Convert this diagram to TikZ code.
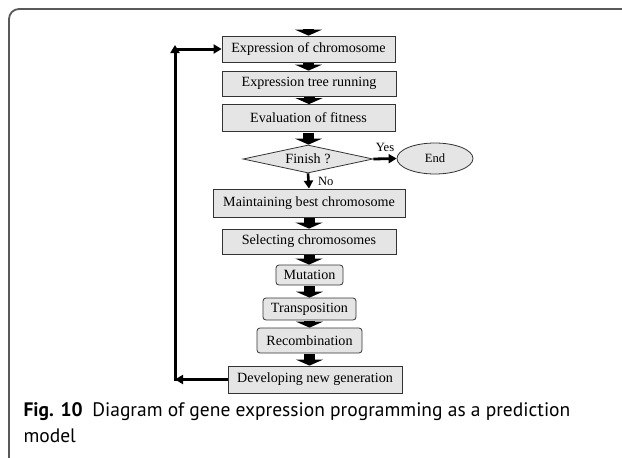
\documentclass[tikz,border=0pt]{standalone}
\usepackage{fontspec}
\setmainfont{Liberation Serif}
\newfontfamily\capfont{PT Sans}
\usetikzlibrary{arrows.meta,positioning,shapes.geometric}
\tikzset{
  >=Stealth,
  stepbox/.style={rectangle, draw=black!80, line width=0.8pt, fill=black!10, inner sep=0pt, font=\fontsize{14.1}{16}\selectfont},
  roundbox/.style={stepbox, rounded corners=3pt},
  lbl/.style={font=\fontsize{12.6}{14}\selectfont}
}
\begin{document}
\begin{tikzpicture}[x=1pt, y=-1pt,
    % flow chart styles for this figure
    decision/.style={diamond, aspect=4.6, draw=black!80, line width=0.8pt, fill=black!10, inner sep=0pt, font=\fontsize{14.1}{16}\selectfont},
    terminal/.style={ellipse, draw=black!80, line width=0.8pt, fill=black!10, inner sep=0pt, font=\fontsize{12.6}{14}\selectfont},
    flow/.style={line width=11pt, -{Triangle[width=27pt, length=6pt]}},
    link/.style={line width=3pt, -{Triangle[width=9pt, length=8pt]}},
    frame line/.style={black!65, line width=1.8pt},
    caption text/.style={font=\capfont\fontsize{19.5}{26}\selectfont, align=left}
]
\useasboundingbox (0,0) rectangle (622,458);

% --- Frame ---
\draw[frame line] (9,470) -- (9,19) arc[start angle=180, end angle=270, radius=10] -- (630,9);

% --- Steps ---
\node[stepbox, minimum width=173pt, minimum height=26pt] (expr) at (308.5,49) {Expression of chromosome};
\node[stepbox, minimum width=174pt, minimum height=25pt] (tree) at (309,83.5) {Expression tree running};
\node[stepbox, minimum width=173pt, minimum height=27pt] (fit) at (308.5,118) {Evaluation of fitness};
\node[decision, minimum width=130pt, minimum height=28pt] (finish) at (308,159) {Finish ?};
\node[terminal, minimum width=76pt, minimum height=31pt] (end) at (435,158.5) {End};
\node[stepbox, minimum width=192pt, minimum height=28pt] (best) at (309,203) {Maintaining best chromosome};
\node[stepbox, minimum width=174pt, minimum height=25pt] (select) at (309,241.5) {Selecting chromosomes};
\node[roundbox, minimum width=67pt, minimum height=20pt] (mut) at (309.5,275) {Mutation};
\node[roundbox, minimum width=93pt, minimum height=22pt] (trans) at (309.5,309) {Transposition};
\node[roundbox, minimum width=105pt, minimum height=25pt] (recomb) at (309.5,340.5) {Recombination};
\node[stepbox, minimum width=174pt, minimum height=27pt] (newgen) at (315,379.5) {Developing new generation};

% --- Block arrows down the chart ---
\coordinate (entry) at (308.5,29);
\draw[flow] (entry) -- (expr.north);
\foreach \a/\b in {expr/tree, tree/fit, fit/finish, best/select, select/mut, mut/trans, trans/recomb, recomb/newgen} {
    \draw[flow] ([yshift=-1pt]\a.south) -- (\a.south |- \b.north);
}

% --- Decision ---
\draw[link, line width=2.8pt] (finish.east) -- node[lbl, above=2pt] (yes) {Yes} (end.west);
\draw[link, line width=2.6pt] (finish.south) -- node[lbl, right=5pt] (no) {No} (best.north);

% --- Loop back to the start ---
\coordinate (loopBottom) at (175,379.5);
\coordinate (loopTop) at (175,45);
\draw[link] (newgen.west) -- (loopBottom);
\draw[link] ([yshift=-1.5pt]loopBottom) -- (loopTop);
\draw[link] ([xshift=-1.5pt]loopTop |- expr.west) -- (expr.west);

% --- Caption ---
\node[caption text, anchor=north west] (caption) at (20,399) {\textbf{Fig. 10}\enspace Diagram of gene expression programming as a prediction\\model};

\end{tikzpicture}
\end{document}
